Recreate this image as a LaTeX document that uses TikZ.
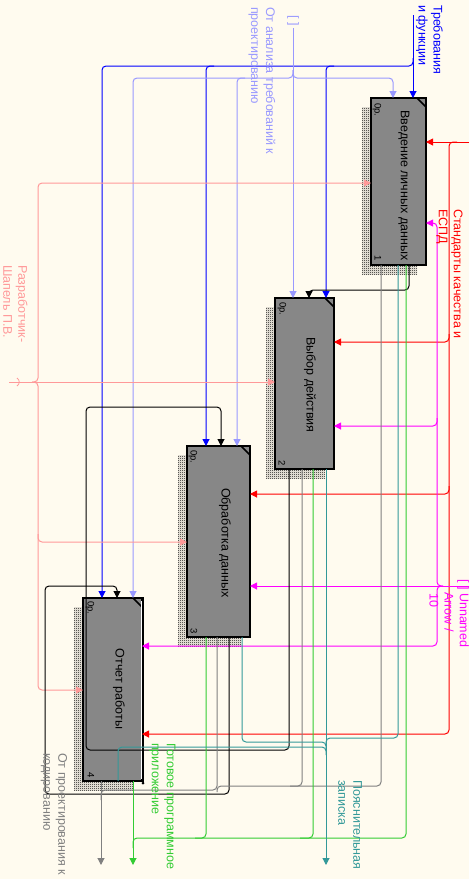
\documentclass[tikz,border=0pt]{standalone}
\usepackage{fontspec}
\setmainfont{Liberation Sans}
\usetikzlibrary{arrows.meta,patterns,calc}
\pgfdeclarepatternformonly{checker}{\pgfpointorigin}{\pgfqpoint{2pt}{2pt}}{\pgfqpoint{2pt}{2pt}}{%
 \pgfpathrectangle{\pgfpointorigin}{\pgfqpoint{1pt}{1pt}}%
 \pgfpathrectangle{\pgfqpoint{1pt}{1pt}}{\pgfqpoint{1pt}{1pt}}%
 \pgfusepath{fill}}
\definecolor{bg}{HTML}{FFFBEF}
\definecolor{boxgray}{HTML}{878787}
\definecolor{cBlue}{HTML}{0000FF}
\definecolor{cLav}{HTML}{9999FF}
\definecolor{cRed}{HTML}{FF0000}
\definecolor{cMag}{HTML}{FF00FF}
\definecolor{cPink}{HTML}{FF9999}
\definecolor{cGray}{HTML}{808080}
\definecolor{cGreen}{HTML}{33CC33}
\definecolor{cTeal}{HTML}{339999}
\begin{document}
\begin{tikzpicture}[x=1pt,y=-1pt,
  ln/.style={line width=1pt, rounded corners=4pt},
  arr/.style={-{Triangle[length=7pt,width=7pt]}},
  box/.style={draw=black, line width=2pt, fill=boxgray, inner sep=0pt, outer sep=0pt, anchor=north west},
  shade/.style={pattern=checker, pattern color=black},
  lbl/.style={rotate=-90, anchor=west, align=left, inner sep=0pt, font=\fontsize{12.5}{15}\selectfont},
  ttl/.style={rotate=-90, inner sep=0pt, font=\fontsize{12.5}{15}\selectfont},
  small/.style={rotate=-90, inner sep=0pt, font=\fontsize{9.5}{11}\selectfont}]
\fill[bg] (0,0) rectangle (469,879);
\useasboundingbox (0,0) rectangle (469,879);
% shadows
\fill[shade] (362,107) rectangle (417,274);
\fill[shade] (266,307) rectangle (325,478);
\fill[shade] (178,455) rectangle (241,646);
\fill[shade] (74,607) rectangle (133,790);
% boxes
\node[box, minimum width=55pt, minimum height=167pt] (b1) at (371,98) {};
\node[box, minimum width=59pt, minimum height=171pt] (b2) at (275,298) {};
\node[box, minimum width=63pt, minimum height=191pt] (b3) at (187,446) {};
\node[box, minimum width=59pt, minimum height=183pt] (b4) at (83,598) {};
\foreach \b in {b1,b2,b3,b4}{
  \draw[line width=1.6pt] ($(\b.north east)+(-9,0)$) -- ($(\b.north east)+(0,9)$);
}
% box 4 right edge
\draw[white,line width=1.5pt] (141.5,601) -- (141.5,779);
\draw[line width=1pt] (143.5,597) -- (143.5,783);
\fill (143,783) circle (1.5pt);
% Blue
\coordinate (blueSrc) at (413,15);
\draw[ln,cBlue,arr] (blueSrc) -- (413,0 |- b1.north);
\draw[ln,cBlue,arr] (413,58) |- (102,66) -- (102,0 |- b4.north);
\draw[ln,cBlue,arr] (214,66) -| (206,0 |- b3.north);
\draw[ln,cBlue,arr] (334,66) -| (326,0 |- b2.north);
% Lavender
\coordinate (lavSrc) at (293,28);
\draw[ln,cLav,arr] (lavSrc) -- (293,0 |- b2.north);
\draw[ln,cLav,arr] (293,70) |- (133,78) -- (133,0 |- b4.north);
\draw[ln,cLav,arr] (293,70) |- (393,78) -- (393,0 |- b1.north);
\draw[ln,cLav,arr] (245,78) -| (237,0 |- b3.north);
% Red
\coordinate (redSrc) at (469,142);
\draw[ln,cRed,arr] (redSrc) -- (b1.east |- redSrc);
\draw[ln,cRed,arr] (457,142) -| (449,734) -- (b4.east |- 0,734);
\draw[ln,cRed,arr] (449,334) |- (b2.east |- 0,342);
\draw[ln,cRed,arr] (449,486) |- (b3.east |- 0,494);
% Magenta
\coordinate (magSrc) at (469,586);
\draw[ln,cMag,arr] (magSrc) -- (b3.east |- magSrc);
\draw[ln,cMag,arr] (443,586) -| (437,223) -- (b1.east |- 0,223);
\draw[ln,cMag,arr] (443,586) -| (437,646) -- (b4.east |- 0,646);
\draw[ln,cMag,arr] (437,418) |- (b2.east |- 0,426);
% Pink
\coordinate (pinkSrc) at (9,382);
\draw[ln,cPink,arr] (pinkSrc) -- (b2.west |- pinkSrc);
\draw[ln,cPink,arr] (32,382) -| (38,183) -- (b1.west |- 0,183);
\draw[ln,cPink,arr] (32,382) -| (38,690) -- (b4.west |- 0,690);
\draw[ln,cPink,arr] (38,534) |- (b3.west |- 0,542);
\draw[cPink,line width=0.8pt] (17,378) .. controls (20,380) and (20,384) .. (17,386);
% Black
\draw[ln,arr] (409,0 |- b1.south) |- (309,290) -- (309,0 |- b2.north);
\draw[ln,arr] (289,0 |- b2.south) |- (86,750) |- (221,407) -- (221,0 |- b3.north);
\draw[ln,arr] (229,0 |- b3.south) |- (45,794) |- (117,586) -- (117,0 |- b4.north);
% Gray
\coordinate (graySink) at (101,865);
\draw[ln,cGray,arr] (101,0 |- b4.south) -- (graySink);
\draw[ln,cGray] (217,0 |- b3.south) |- (101,790) -- (101,800);
\draw[ln,cGray] (381,0 |- b1.south) |- (217,786) -- (217,792);
\draw[ln,cGray] (302,0 |- b2.south) |- (290,786);
% Green
\coordinate (greenSink) at (133,865);
\draw[ln,cGreen,arr] (133,0 |- b4.south) -- (greenSink);
\draw[ln,cGreen] (406,0 |- b1.south) |- (133,838) -- (133,848);
\draw[ln,cGreen] (313,0 |- b2.south) |- (300,838);
\draw[ln,cGreen] (206,0 |- b3.south) |- (195,838);
% Teal
\coordinate (tealSink) at (326,865);
\draw[ln,cTeal,arr] (326,0 |- b2.south) -- (tealSink);
\draw[ln,cTeal] (398,0 |- b1.south) |- (326,738) -- (326,746);
\draw[ln,cTeal] (242,0 |- b3.south) |- (326,742) -- (326,750);
\draw[ln,cTeal] (118,0 |- b4.south) |- (326,747) -- (326,755);
% box titles
\node[ttl] (t1) at (404,185.5) {Введение личных данных};
\node[ttl] (t2) at (310,385) {Выбор действия};
\node[ttl] (t3) at (225,543) {Обработка данных};
\node[ttl] (t4) at (119,689) {Отчет работы};
\node[small] (c1) at (377,110) {0р.};
\node[small] (n1) at (378,258) {1};
\node[small] (c2) at (282,309) {0р.};
\node[small] (n2) at (282,463) {2};
\node[small] (c3) at (193,457) {0р.};
\node[small] (n3) at (194,631) {3};
\node[small] (c4) at (90,608) {0р.};
\node[small] (n4) at (91,775) {4};
% labels
\node[lbl,text=cBlue] (lblue) at (429.5,5) {Требования\\и функции};
\node[lbl,text=cLav] (llav1) at (293,15) {[ ]};
\node[lbl,text=cLav] (llav2) at (262,7) {От анализа требований к\\проектированию};
\node[lbl,text=cRed] (lred) at (449.5,209) {Стандарты качества и\\ЕСПД};
\node[lbl,text=cMag] (lmag1) at (463,579) {[ ] Unnamed};
\node[lbl,text=cMag] (lmag2) at (449,592) {Arrow /};
\node[lbl,text=cMag] (lmag3) at (434,593) {10};
\node[lbl,text=cPink] (lpink) at (15.5,265) {Разработчик-\\Шапель П.В.};
\node[lbl,text=cGray] (lgray) at (54,753) {От проектирования к\\кодированию};
\node[lbl,text=cGreen] (lgreen) at (162.5,743) {Готовое программное\\приложение};
\node[lbl,text=cTeal] (lteal) at (350,780) {Пояснительная\\записка};
\end{tikzpicture}
\end{document}
